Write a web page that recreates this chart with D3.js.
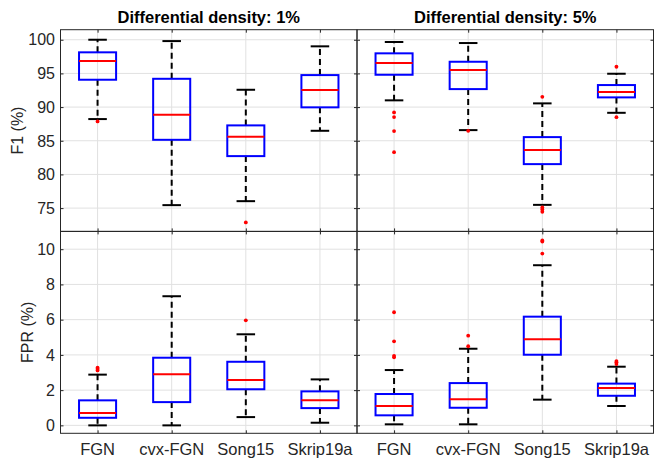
<!DOCTYPE html>
<html>
<head>
<meta charset="utf-8">
<script src="https://cdn.jsdelivr.net/npm/d3@7"></script>
<style>
  html, body { margin: 0; padding: 0; background: #fff; }
  svg { display: block; font-family: "Liberation Sans", Arial, Helvetica, sans-serif; }
</style>
</head>
<body>
<svg id="chart" width="654" height="459"></svg>
<script>
// ---- data ----
const categories = ["FGN", "cvx-FGN", "Song15", "Skrip19a"];
const titles = ["Differential density: 1%", "Differential density: 5%"];
const rowLabels = ["F1 (%)", "FPR (%)"];

// [lower whisker, Q1, median, Q3, upper whisker] per category
const f1Density1 = [
  [88.22, 94.06, 96.84, 98.13, 100.0],
  [75.44, 85.14, 88.86, 94.2, 99.8],
  [76.03, 82.72, 85.59, 87.28, 92.57],
  [86.48, 89.96, 92.53, 94.75, 99.02]
];
const f1Density1Outliers = [[87.87], [], [72.87], []];

const f1Density5 = [
  [91.0, 94.8, 96.54, 97.98, 99.66],
  [86.58, 92.67, 95.5, 96.73, 99.51],
  [75.48, 81.53, 83.61, 85.54, 90.55],
  [89.15, 91.44, 92.23, 93.27, 94.95]
];
const f1Density5Outliers = [[89.21, 88.51, 86.43, 83.31], [86.48], [91.53, 75.1, 74.8, 74.44], [95.99, 88.5]];

const fprDensity1 = [
  [0.0, 0.43, 0.70, 1.42, 2.88],
  [0.0, 1.32, 2.90, 3.84, 7.33],
  [0.47, 2.05, 2.57, 3.61, 5.17],
  [0.15, 0.98, 1.42, 1.93, 2.61]
];
const fprDensity1Outliers = [[3.12, 3.2, 3.27], [], [5.96], []];

const fprDensity5 = [
  [0.06, 0.57, 1.10, 1.78, 3.14],
  [0.06, 1.00, 1.48, 2.40, 4.35],
  [1.46, 4.01, 4.89, 6.17, 9.09],
  [1.10, 1.68, 2.12, 2.37, 3.33]
];
const fprDensity5Outliers = [[3.86, 3.95, 4.77, 6.42], [4.49, 5.09], [9.75, 10.43, 10.5], [3.48, 3.58, 3.65]];

const f1Ticks = [75, 80, 85, 90, 95, 100];
const fprTicks = [0, 2, 4, 6, 8, 10];
const f1Domain = [71.54, 101.49];
const fprDomain = [-0.45, 11.01];

// ---- layout ----
const svg = d3.select("#chart");
const L = 60.5, M = 357, R = 653.5;
const T = 29.7, MY = 231.4, B = 433.3;
const axisColor = "#262626";
const gridColor = "#e1e1e1";
const tickLen = 3;

const panels = [
  { x0: L, x1: M, y0: T, y1: MY, stats: f1Density1, out: f1Density1Outliers, domain: f1Domain, ticks: f1Ticks, col: 0, row: 0 },
  { x0: M, x1: R, y0: T, y1: MY, stats: f1Density5, out: f1Density5Outliers, domain: f1Domain, ticks: f1Ticks, col: 1, row: 0 },
  { x0: L, x1: M, y0: MY, y1: B, stats: fprDensity1, out: fprDensity1Outliers, domain: fprDomain, ticks: fprTicks, col: 0, row: 1 },
  { x0: M, x1: R, y0: MY, y1: B, stats: fprDensity5, out: fprDensity5Outliers, domain: fprDomain, ticks: fprTicks, col: 1, row: 1 }
];

panels.forEach(p => {
  const x = d3.scalePoint().domain(categories).range([p.x0, p.x1]).padding(0.5);
  const y = d3.scaleLinear().domain(p.domain).range([p.y1, p.y0]);
  const g = svg.append("g");
  const step = x.step();
  const boxW = step * 0.5;
  const capW = boxW * 0.5;

  // grid
  g.selectAll(".hg").data(p.ticks).join("line")
    .attr("x1", p.x0).attr("x2", p.x1)
    .attr("y1", d => y(d)).attr("y2", d => y(d))
    .attr("stroke", gridColor).attr("stroke-width", 1);
  g.selectAll(".vg").data(categories).join("line")
    .attr("x1", d => x(d)).attr("x2", d => x(d))
    .attr("y1", p.y0).attr("y2", p.y1)
    .attr("stroke", gridColor).attr("stroke-width", 1);

  // axes with inward ticks using d3 axis generators
  const yAxisL = d3.axisRight(y).tickValues(p.ticks).tickSize(tickLen).tickFormat("");
  const yAxisR = d3.axisLeft(y).tickValues(p.ticks).tickSize(tickLen).tickFormat("");
  const xAxisB = d3.axisTop(x).tickSize(tickLen).tickFormat("");
  const xAxisT = d3.axisBottom(x).tickSize(tickLen).tickFormat("");
  const ag = [
    g.append("g").attr("transform", `translate(${p.x0},0)`).call(yAxisL),
    g.append("g").attr("transform", `translate(${p.x1},0)`).call(yAxisR),
    g.append("g").attr("transform", `translate(0,${p.y1})`).call(xAxisB),
    g.append("g").attr("transform", `translate(0,${p.y0})`).call(xAxisT)
  ];
  ag.forEach(a => {
    a.selectAll("path").remove();
    a.selectAll("line").attr("stroke", axisColor).attr("stroke-width", 1);
  });

  // y tick labels on left panels
  if (p.col === 0) {
    g.selectAll(".yl").data(p.ticks).join("text")
      .attr("x", p.x0 - 5.5).attr("y", d => y(d))
      .attr("dy", "0.36em")
      .attr("text-anchor", "end")
      .attr("font-size", 16)
      .attr("fill", axisColor)
      .text(d => d);
  }
  // x tick labels on bottom panels
  if (p.row === 1) {
    g.selectAll(".xl").data(categories).join("text")
      .attr("x", d => x(d)).attr("y", 455)
      .attr("text-anchor", "middle")
      .attr("font-size", 16.5)
      .attr("fill", axisColor)
      .text(d => d);
  }
  // titles on top panels
  if (p.row === 0) {
    g.append("text")
      .attr("x", (p.x0 + p.x1) / 2).attr("y", 22.5)
      .attr("text-anchor", "middle")
      .attr("font-size", 16.5).attr("font-weight", "bold")
      .attr("fill", "#000")
      .text(titles[p.col]);
  }

  // boxplots
  const bg = g.selectAll(".box").data(p.stats).join("g");
  bg.each(function(s, i) {
    const cx = x(categories[i]);
    const b = d3.select(this);
    // whiskers (dashed)
    b.append("line").attr("x1", cx).attr("x2", cx).attr("y1", y(s[3])).attr("y2", y(s[4]))
      .attr("stroke", "#000").attr("stroke-width", 2).attr("stroke-dasharray", "6,4");
    b.append("line").attr("x1", cx).attr("x2", cx).attr("y1", y(s[1])).attr("y2", y(s[0]))
      .attr("stroke", "#000").attr("stroke-width", 2).attr("stroke-dasharray", "6,4");
    // caps
    [s[0], s[4]].forEach(v => {
      b.append("line").attr("x1", cx - capW / 2).attr("x2", cx + capW / 2)
        .attr("y1", y(v)).attr("y2", y(v))
        .attr("stroke", "#000").attr("stroke-width", 2);
    });
    // box
    b.append("rect").attr("x", cx - boxW / 2).attr("width", boxW)
      .attr("y", y(s[3])).attr("height", y(s[1]) - y(s[3]))
      .attr("fill", "none").attr("stroke", "#0000ff").attr("stroke-width", 2);
    // median
    b.append("line").attr("x1", cx - boxW / 2).attr("x2", cx + boxW / 2)
      .attr("y1", y(s[2])).attr("y2", y(s[2]))
      .attr("stroke", "#ff0000").attr("stroke-width", 2);
    // outliers
    b.selectAll(".o").data(p.out[i]).join("circle")
      .attr("cx", cx).attr("cy", d => y(d)).attr("r", 1.9)
      .attr("fill", "#ff0000");
  });

  // frame
  g.append("rect").attr("x", p.x0).attr("y", p.y0)
    .attr("width", p.x1 - p.x0).attr("height", p.y1 - p.y0)
    .attr("fill", "none").attr("stroke", axisColor).attr("stroke-width", 1);
});

// row labels
svg.append("text")
  .attr("transform", `translate(22.5,${(T + MY) / 2}) rotate(-90)`)
  .attr("text-anchor", "middle").attr("font-size", 16).attr("fill", axisColor)
  .text(rowLabels[0]);
svg.append("text")
  .attr("transform", `translate(32.5,${(MY + B) / 2}) rotate(-90)`)
  .attr("text-anchor", "middle").attr("font-size", 16).attr("fill", axisColor)
  .text(rowLabels[1]);
</script>
</body>
</html>
